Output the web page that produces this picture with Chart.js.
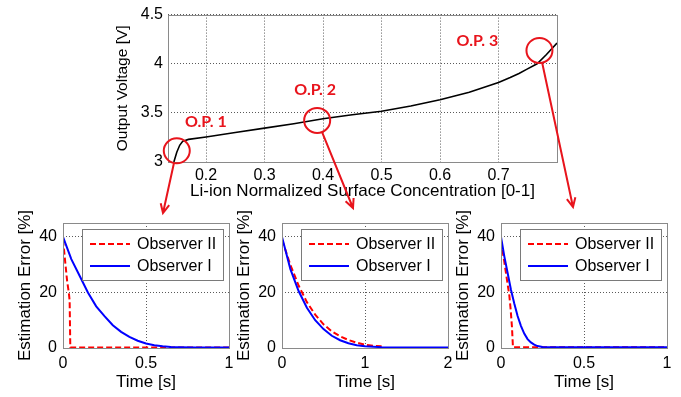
<!DOCTYPE html>
<html>
<head>
<meta charset="utf-8">
<script src="https://cdn.jsdelivr.net/npm/chart.js@4.4.1/dist/chart.umd.min.js"></script>
<style>
    body { margin: 0; background: #fff; }
    #wrap { position: relative; width: 681px; height: 397px; overflow: hidden; }
    #wrap canvas { position: absolute; left: 0; top: 0; }
</style>
</head>
<body>
<div id="wrap">
    <canvas id="sub1" width="681" height="397"></canvas>
    <canvas id="sub2" width="681" height="397"></canvas>
    <canvas id="sub3" width="681" height="397"></canvas>
    <canvas id="main" width="681" height="397"></canvas>
</div>
<script>
// voltage curve
const concentration = [0.145, 0.15, 0.155, 0.16, 0.17, 0.2, 0.25, 0.3, 0.35, 0.4, 0.45, 0.5, 0.55, 0.6, 0.65, 0.7, 0.72, 0.735, 0.748, 0.766, 0.782, 0.8];
const voltage = [3.0, 3.1, 3.17, 3.21, 3.23, 3.255, 3.3, 3.345, 3.39, 3.44, 3.48, 3.517, 3.57, 3.634, 3.71, 3.81, 3.86, 3.9, 3.943, 4.0, 4.094, 4.21];
const concTicks = [0.2, 0.3, 0.4, 0.5, 0.6, 0.7];
const voltTicks = [3, 3.5, 4, 4.5];

// operating points
const opNames = ['O.P. 1', 'O.P. 2', 'O.P. 3'];
const opConc = [0.15, 0.39, 0.77];
const opVolt = [3.114, 3.423, 4.135];

// estimation error, O.P. 1
const op1TimeII = [0, 0.01, 0.025, 0.035, 0.04, 0.044, 1];
const op1ErrII = [39, 33, 24, 20, 17, 0.2, 0.2];
const op1TimeI = [0, 0.05, 0.1, 0.15, 0.2, 0.25, 0.3, 0.35, 0.4, 0.45, 0.5, 0.55, 0.6, 0.65, 0.7, 0.8, 1];
const op1ErrI = [40, 32, 26, 20, 15, 11.5, 8.2, 5.8, 4.0, 2.6, 1.6, 1.0, 0.6, 0.4, 0.3, 0.2, 0.2];

// estimation error, O.P. 2
const op2TimeII = [0, 0.1, 0.2, 0.3, 0.4, 0.5, 0.6, 0.7, 0.8, 0.9, 1.0, 1.1, 1.2];
const op2ErrII = [39, 30, 22.5, 16.5, 12, 8.5, 6, 4.2, 2.9, 1.9, 1.2, 0.8, 0.6];
const op2TimeI = [0, 0.1, 0.2, 0.3, 0.4, 0.5, 0.6, 0.7, 0.8, 0.9, 1.0, 1.2, 1.4, 2];
const op2ErrI = [40, 28.5, 20.5, 14.5, 10, 6.8, 4.4, 2.8, 1.7, 1.0, 0.6, 0.3, 0.2, 0.2];

// estimation error, O.P. 3
const op3TimeII = [0, 0.02, 0.036, 0.05, 0.058, 0.066, 0.072, 1];
const op3ErrII = [38.5, 31, 24.5, 19, 14, 7.6, 0.3, 0.3];
const op3TimeI = [0, 0.02, 0.04, 0.06, 0.08, 0.1, 0.12, 0.14, 0.16, 0.18, 0.2, 0.22, 0.25, 1];
const op3ErrI = [40, 33, 27, 21, 16, 11.5, 8, 5.2, 3.2, 2, 1.2, 0.7, 0.4, 0.3];

const errTicks = [0, 20, 40];
const time1Ticks = [0, 0.5, 1];
const time2Ticks = [0, 1, 2];

const W = 681, H = 397;
const RED = '#e8141c';
const GRID = '#5a5a5a';

Chart.defaults.font.family = '"Liberation Sans", Arial, sans-serif';
Chart.defaults.color = '#000';

function points(xs, ys) {
    return xs.map((x, i) => ({ x: x, y: ys[i] }));
}

// put the plot area where it sits in the picture
function padFor(area, yWidth, xHeight) {
    return {
        left: area.left - yWidth,
        top: area.top,
        right: W - area.right,
        bottom: H - area.bottom - xHeight
    };
}

const framePlugin = {
    id: 'frame',
    afterDraw(chart) {
        const a = chart.chartArea;
        const c = chart.ctx;
        c.save();
        c.strokeStyle = '#8a8a8a';
        c.lineWidth = 1;
        c.strokeRect(Math.round(a.left) + 0.5, Math.round(a.top) + 0.5,
            Math.round(a.right - a.left), Math.round(a.bottom - a.top));
        c.restore();
    }
};

const boxLegend = {
    id: 'boxLegend',
    afterDraw(chart) {
        const a = chart.chartArea;
        const c = chart.ctx;
        const x = Math.round(a.right - 147), y = Math.round(a.top + 6);
        c.save();
        c.fillStyle = '#fff';
        c.fillRect(x, y, 141, 51);
        c.strokeStyle = '#7a7a7a';
        c.lineWidth = 1;
        c.strokeRect(x + 0.5, y + 0.5, 141, 51);
        c.font = '16px "Liberation Sans", Arial, sans-serif';
        c.textBaseline = 'middle';
        chart.data.datasets.forEach((ds, i) => {
            const ly = y + 15 + i * 22;
            c.strokeStyle = ds.borderColor;
            c.lineWidth = ds.borderWidth;
            c.setLineDash(ds.borderDash || []);
            c.beginPath();
            c.moveTo(x + 8, ly);
            c.lineTo(x + 48, ly);
            c.stroke();
            c.setLineDash([]);
            c.fillStyle = '#000';
            c.fillText(ds.label, x + 55, ly + 1);
        });
        c.restore();
    }
};

// circles, labels and arrows down to the small plots
const opPlugin = {
    id: 'opMarks',
    afterDraw(chart, args, opts) {
        const c = chart.ctx;
        const xs = chart.scales.x, ys = chart.scales.y;
        c.save();
        c.strokeStyle = RED;
        c.fillStyle = RED;
        c.lineWidth = 2;
        c.font = 'bold 16px Lato, "Open Sans", sans-serif';
        c.textAlign = 'center';
        c.textBaseline = 'middle';
        opConc.forEach((v, i) => {
            const cx = xs.getPixelForValue(v);
            const cy = ys.getPixelForValue(opVolt[i]);
            c.beginPath();
            c.ellipse(cx, cy, 13, 12.5, 0, 0, Math.PI * 2);
            c.stroke();
            c.fillText(opNames[i], cx + opts.labelOffsets[i][0], cy + opts.labelOffsets[i][1]);

            const tx = opts.arrowTips[i][0], ty = opts.arrowTips[i][1];
            const ang = Math.atan2(ty - cy, tx - cx);
            c.beginPath();
            c.moveTo(cx + 13 * Math.cos(ang), cy + 12.5 * Math.sin(ang));
            c.lineTo(tx, ty);
            c.moveTo(tx - 10 * Math.cos(ang - 0.45), ty - 10 * Math.sin(ang - 0.45));
            c.lineTo(tx, ty);
            c.lineTo(tx - 10 * Math.cos(ang + 0.45), ty - 10 * Math.sin(ang + 0.45));
            c.stroke();
        });
        c.restore();
    }
};

new Chart(document.getElementById('main'), {
    type: 'line',
    data: {
        datasets: [{
            data: points(concentration, voltage),
            borderColor: '#000',
            borderWidth: 1.6,
            pointRadius: 0,
            tension: 0
        }]
    },
    options: {
        responsive: false,
        animation: false,
        events: [],
        layout: { padding: padFor({ left: 168, top: 13, right: 557, bottom: 162 }, 58.6, 44) },
        plugins: {
            legend: { display: false },
            tooltip: { enabled: false },
            opMarks: {
                labelOffsets: [[29, -29], [-2, -31], [-62, -10]],
                arrowTips: [[163, 213], [353, 208], [573, 207]]
            }
        },
        scales: {
            x: {
                type: 'linear',
                min: 0.135,
                max: 0.8,
                afterBuildTicks: s => { s.ticks = concTicks.map(v => ({ value: v })); },
                afterFit: s => { s.height = 44; },
                grid: { color: GRID, lineWidth: 1, drawTicks: false },
                border: { display: false, dash: [1, 2] },
                ticks: { padding: 4, font: { size: 16 }, maxRotation: 0, autoSkip: false, callback: v => '' + v },
                title: { display: true, text: 'Li-ion Normalized Surface Concentration [0-1]', font: { size: 17 } }
            },
            y: {
                min: 3,
                max: 4.5,
                afterBuildTicks: s => { s.ticks = voltTicks.map(v => ({ value: v })); },
                afterFit: s => { s.width = 58.6; },
                grid: { color: GRID, lineWidth: 1, drawTicks: false },
                border: { display: false, dash: [1, 2] },
                ticks: { padding: 5, font: { size: 16 }, callback: v => '' + v },
                title: { display: true, text: 'Output Voltage [V]', font: { size: 15.5 } }
            }
        }
    },
    plugins: [framePlugin, opPlugin]
});

function subChart(id, left, tMax, tTicks, timeII, errII, timeI, errI) {
    new Chart(document.getElementById(id), {
        type: 'line',
        data: {
            datasets: [{
                label: 'Observer II',
                data: points(timeII, errII),
                borderColor: '#ff0000',
                borderWidth: 2,
                borderDash: [6, 3],
                pointRadius: 0,
                tension: 0,
                order: 1
            }, {
                label: 'Observer I',
                data: points(timeI, errI),
                borderColor: '#0000ff',
                borderWidth: 2,
                pointRadius: 0,
                tension: 0,
                order: 0
            }]
        },
        options: {
            responsive: false,
            animation: false,
            events: [],
            layout: { padding: padFor({ left: left, top: 223, right: left + 166, bottom: 348 }, 52, 49) },
            plugins: { legend: { display: false }, tooltip: { enabled: false } },
            scales: {
                x: {
                    type: 'linear',
                    min: 0,
                    max: tMax,
                    afterBuildTicks: s => { s.ticks = tTicks.map(v => ({ value: v })); },
                    afterFit: s => { s.height = 49; },
                    grid: { color: GRID, lineWidth: 1, drawTicks: false },
                    border: { display: false, dash: [1, 2] },
                    ticks: { padding: 6, font: { size: 16 }, maxRotation: 0, autoSkip: false, callback: v => '' + v },
                    title: { display: true, text: 'Time [s]', font: { size: 17 } }
                },
                y: {
                    min: 0,
                    max: 45,
                    afterBuildTicks: s => { s.ticks = errTicks.map(v => ({ value: v })); },
                    afterFit: s => { s.width = 52; },
                    grid: { color: GRID, lineWidth: 1, drawTicks: false },
                    border: { display: false, dash: [1, 2] },
                    ticks: { padding: 6, font: { size: 16 }, callback: v => '' + v },
                    title: { display: true, text: 'Estimation Error [%]', font: { size: 17 } }
                }
            }
        },
        plugins: [framePlugin, boxLegend]
    });
}

subChart('sub1', 63, 1, time1Ticks, op1TimeII, op1ErrII, op1TimeI, op1ErrI);
subChart('sub2', 282, 2, time2Ticks, op2TimeII, op2ErrII, op2TimeI, op2ErrI);
subChart('sub3', 501, 1, time1Ticks, op3TimeII, op3ErrII, op3TimeI, op3ErrI);
</script>
</body>
</html>
